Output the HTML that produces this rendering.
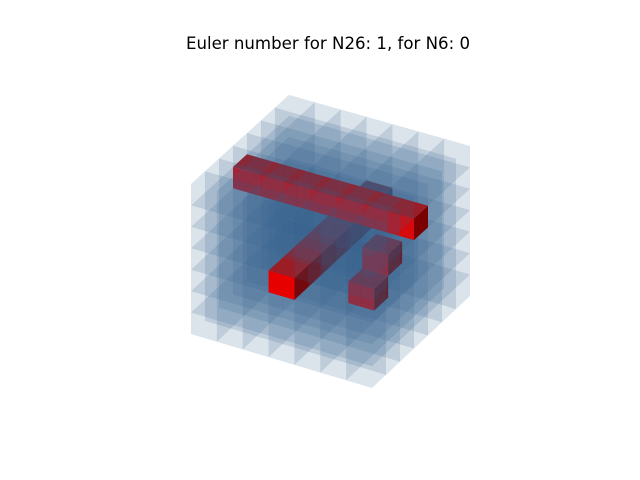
<!DOCTYPE html>
<html><head><meta charset="utf-8"><style>
html,body{margin:0;padding:0;background:#fff;}
#wrap{position:relative;width:640px;height:480px;overflow:hidden;}
#title{position:absolute;left:8px;top:34px;width:640px;text-align:center;font-family:"DejaVu Sans","Liberation Sans",sans-serif;font-size:16.6px;color:#000;}
svg{position:absolute;left:0;top:0;}
</style></head><body>
<div id="wrap">
<div id="title">Euler number for N26: 1, for N6: 0</div>
<svg id="plot" width="640" height="480"></svg>
</div>
<script>
const gridSize = [7, 7, 7];
const redVoxels = [
  [0,3,5],[1,3,5],[2,3,5],[3,3,5],[4,3,5],[5,3,5],[6,3,5],
  [3,0,3],[3,1,3],[3,2,3],[3,3,3],[3,4,3],[3,5,3],[3,6,3],
  [1,2,2],[1,3,3]
];
const svg = document.getElementById('plot');
const NS = 'http://www.w3.org/2000/svg';
function proj(i,j,k){
  const x = 372 - 25.86*i + 14.0*j;
  const y = 388 - 7.86*i - 13.29*j - 21.86*k;
  const back = (i + j) / 14;
  return [x, y + 6*back*(k/7) + 2*back];
}
function dist(i,j,k){ return 0.45*i + 0.75*j - 0.5*k; }
const isRed = {};
redVoxels.forEach(v => { isRed[v.join(',')] = true; });
const faces = [];
function cubeFaces(i,j,k){
  return {
    im: [[i,j,k],[i,j+1,k],[i,j+1,k+1],[i,j,k+1]],
    ip: [[i+1,j,k],[i+1,j+1,k],[i+1,j+1,k+1],[i+1,j,k+1]],
    jm: [[i,j,k],[i+1,j,k],[i+1,j,k+1],[i,j,k+1]],
    jp: [[i,j+1,k],[i+1,j+1,k],[i+1,j+1,k+1],[i,j+1,k+1]],
    km: [[i,j,k],[i+1,j,k],[i+1,j+1,k],[i,j+1,k]],
    kp: [[i,j,k+1],[i+1,j,k+1],[i+1,j+1,k+1],[i,j+1,k+1]]
  };
}
function center(q){
  let s=[0,0,0]; q.forEach(p=>{s[0]+=p[0];s[1]+=p[1];s[2]+=p[2];});
  return s.map(x=>x/4);
}
for(let i=0;i<gridSize[0];i++)for(let j=0;j<gridSize[1];j++)for(let k=0;k<gridSize[2];k++){
  const f = cubeFaces(i,j,k);
  if(isRed[[i,j,k].join(',')]){
    const cols = {im:'#7a0000', jm:'#e60000', kp:'#b01010'};
    for(const key in cols){ const c=center(f[key]); faces.push({q:f[key], fill:cols[key], op:1, d:dist(c[0],c[1],c[2]), red:true}); }
  } else {
    for(const key in f){ const c=center(f[key]); faces.push({q:f[key], fill:'#356990', op:0.092, d:dist(c[0],c[1],c[2]), red:false}); }
  }
}
faces.sort((a,b)=>b.d-a.d);
faces.forEach(fc=>{
  const p = document.createElementNS(NS,'polygon');
  p.setAttribute('points', fc.q.map(v=>proj(v[0],v[1],v[2]).map(x=>x.toFixed(2)).join(',')).join(' '));
  p.setAttribute('fill', fc.fill);
  p.setAttribute('fill-opacity', fc.op);
  
  
  svg.appendChild(p);
});
</script>
</body></html>
